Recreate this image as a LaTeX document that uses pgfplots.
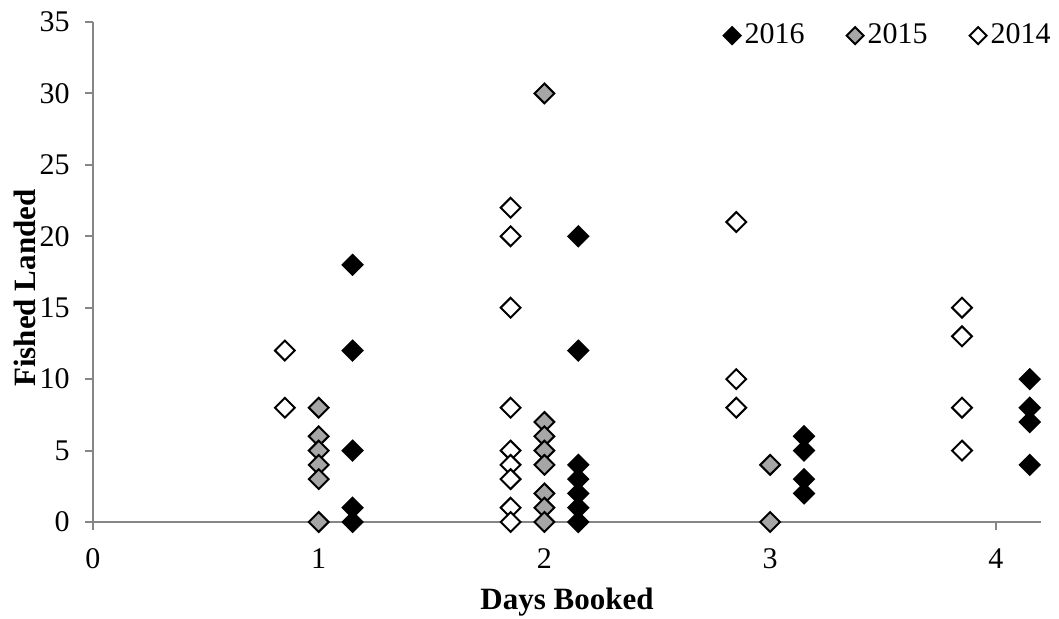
\documentclass[border=0pt]{standalone}
\usepackage{fontspec}
\setmainfont{Liberation Serif}
\usepackage{pgfplots}
\pgfplotsset{compat=1.18}
\usetikzlibrary{calc}
\definecolor{axgray}{RGB}{134,134,134}
\definecolor{midgray}{RGB}{166,166,166}
\begin{document}
\fontsize{15}{17}\selectfont
\begin{tikzpicture}
\begin{axis}[
  scale only axis, width=474pt, height=250pt,
  xmin=0, xmax=4.2, ymin=0, ymax=35,
  clip=false,
  axis x line=bottom, axis y line=left,
  axis line style={draw=axgray, line width=1pt, -},
  xtick={0,1,2,3,4}, ytick={0,5,...,35},
  tick align=outside, major tick length=4pt,
  tick style={draw=axgray, line width=1pt},
  /pgf/number format/assume math mode=true,
  ticklabel style={font=\fontsize{15}{17}\selectfont},
  xticklabel style={yshift=-4pt},
  yticklabel style={xshift=-2.5pt},
  xlabel={\textbf{Days Booked}}, ylabel={\textbf{Fished Landed}},
  label style={font=\fontsize{15.5}{17}\selectfont},
  xlabel style={at={(rel axis cs:0.5,0)}, anchor=center, yshift=-40pt},
  ylabel style={at={(rel axis cs:0,0.5)}, anchor=center, yshift=34pt, xshift=-8pt},
  legend style={draw=none, fill=none, at={(rel axis cs:1,1)}, anchor=north east,
    xshift=7pt, yshift=1.5pt,
    font=\fontsize{15}{17}\selectfont, inner sep=0pt,
    /tikz/every even column/.append style={column sep=19pt}},
  legend columns=3,
  legend cell align=left,
  legend image code/.code={\draw[mark size=3pt] plot coordinates {(0.2cm,0cm)};},
  mark size=3.5pt,
]
\coordinate (bl) at (rel axis cs:0,0);
\coordinate (tr) at (rel axis cs:1,1);
% 2016
\addplot[only marks, mark=square*, mark options={rotate=45, fill=black, draw=black, line width=1pt}]
coordinates {(1.15,18) (1.15,12) (1.15,5) (1.15,1) (1.15,0)
 (2.15,20) (2.15,12) (2.15,4) (2.15,3) (2.15,2) (2.15,1) (2.15,0)
 (3.15,6) (3.15,5) (3.15,3) (3.15,2)
 (4.15,10) (4.15,8) (4.15,7) (4.15,4)};
\addlegendentry{2016}
% 2015
\addplot[only marks, mark=square*, mark options={rotate=45, fill=midgray, draw=black, line width=1pt}]
coordinates {(1,8) (1,6) (1,5) (1,4) (1,3) (1,0)
 (2,30) (2,7) (2,6) (2,5) (2,4) (2,2) (2,1) (2,0)
 (3,4) (3,0)};
\addlegendentry{2015}
% 2014
\addplot[only marks, mark=square*, mark options={rotate=45, fill=white, draw=black, line width=1pt}]
coordinates {(0.85,12) (0.85,8)
 (1.85,22) (1.85,20) (1.85,15) (1.85,8) (1.85,5) (1.85,4) (1.85,3) (1.85,1) (1.85,0)
 (2.85,21) (2.85,10) (2.85,8)
 (3.85,15) (3.85,13) (3.85,8) (3.85,5)};
\addlegendentry{2014}
\end{axis}
\pgfresetboundingbox
\useasboundingbox ($(bl)+(-46.5pt,-48.5pt)$) rectangle ($(tr)+(9pt,11pt)$);
\end{tikzpicture}
\end{document}
